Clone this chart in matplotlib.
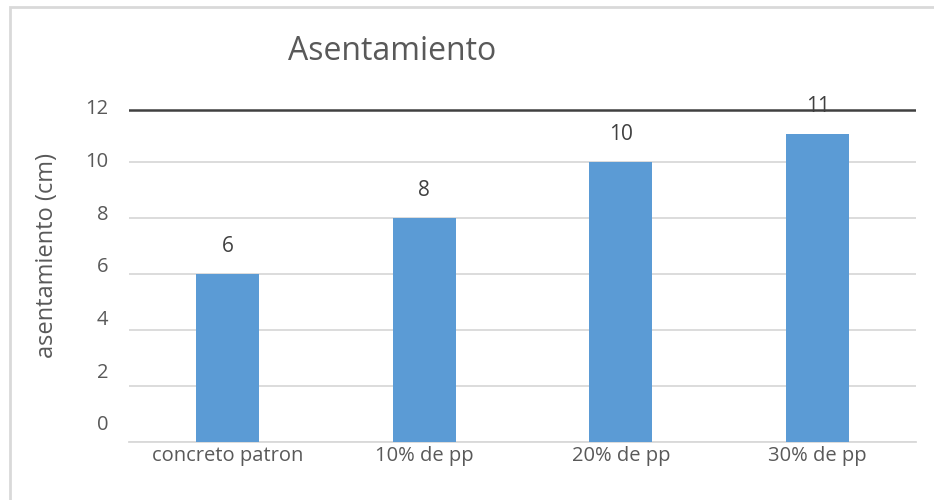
import matplotlib
matplotlib.use("Agg")
import matplotlib.pyplot as plt
from matplotlib.patches import Rectangle

# Slump per mix
categories = ["concreto patron", "10% de pp", "20% de pp", "30% de pp"]
slump_cm = [6, 8, 10, 11]
y_ticks = [0, 2, 4, 6, 8, 10, 12]

BAR_COLOR = "#5B9BD5"
TEXT_COLOR = "#595959"
GRID_COLOR = "#D9D9D9"

plt.rcParams["font.family"] = ["Open Sans", "DejaVu Sans"]

W, H = 934, 500
fig = plt.figure(figsize=(W / 100, H / 100), dpi=100)
fig.patch.set_facecolor("white")

# outer chart frame
fig.patches.append(Rectangle((10 / W, -0.1), 1.2, 1.1 - 7 / H, transform=fig.transFigure,
                             fill=False, edgecolor="#D9D9D9", linewidth=2))

ax = fig.add_axes([129 / W, 1 - 442 / H, (916 - 129) / W, (442 - 106) / H])
x = range(len(categories))
bars = ax.bar(x, slump_cm, width=0.32, color=BAR_COLOR, zorder=3)

for b, v in zip(bars, slump_cm):
    ax.annotate(f"{v:.0f}", (b.get_x() + b.get_width() / 2, v), xytext=(0, 19.5),
                textcoords="offset points", ha="center", va="center",
                fontsize=15, color="#404040", zorder=5)

ax.set_xlim(-0.5, len(categories) - 0.5)
ax.set_ylim(0, 12)
ax.set_yticks(y_ticks)
ax.set_yticklabels([])
ax.set_xticks(list(x))
ax.set_xticklabels(categories)
ax.tick_params(axis="both", length=0, labelsize=14.5, colors=TEXT_COLOR)
ax.tick_params(axis="x", pad=3)

ax.yaxis.grid(True, color=GRID_COLOR, linewidth=1.3, zorder=0)
ax.get_ygridlines()[-1].set_visible(False)
for s in ["top", "right", "left"]:
    ax.spines[s].set_visible(False)
ax.spines["bottom"].set_color(GRID_COLOR)
ax.spines["bottom"].set_linewidth(1.3)

# dark rule across the top of the plot
ax.axhline(11.85, color="#404040", linewidth=1.8, zorder=4)

# value axis labels sit on a slightly tighter scale than the gridlines
lab = fig.add_axes([129 / W, 1 - 423 / H, 0.01, (423 - 107) / H])
lab.set_ylim(0, 12)
lab.set_yticks(y_ticks)
lab.tick_params(axis="y", length=0, labelsize=14.5, colors=TEXT_COLOR, pad=15)
lab.set_xticks([])
lab.patch.set_visible(False)
for s in lab.spines.values():
    s.set_visible(False)

fig.text(47 / W, 1 - 255 / H, "asentamiento (cm)", fontsize=17, color=TEXT_COLOR,
         rotation=90, ha="center", va="center")

fig.text(392 / W, 1 - 52 / H, "Asentamiento", fontsize=23, color=TEXT_COLOR,
         ha="center", va="center")

fig.savefig("out.png", dpi=100)
